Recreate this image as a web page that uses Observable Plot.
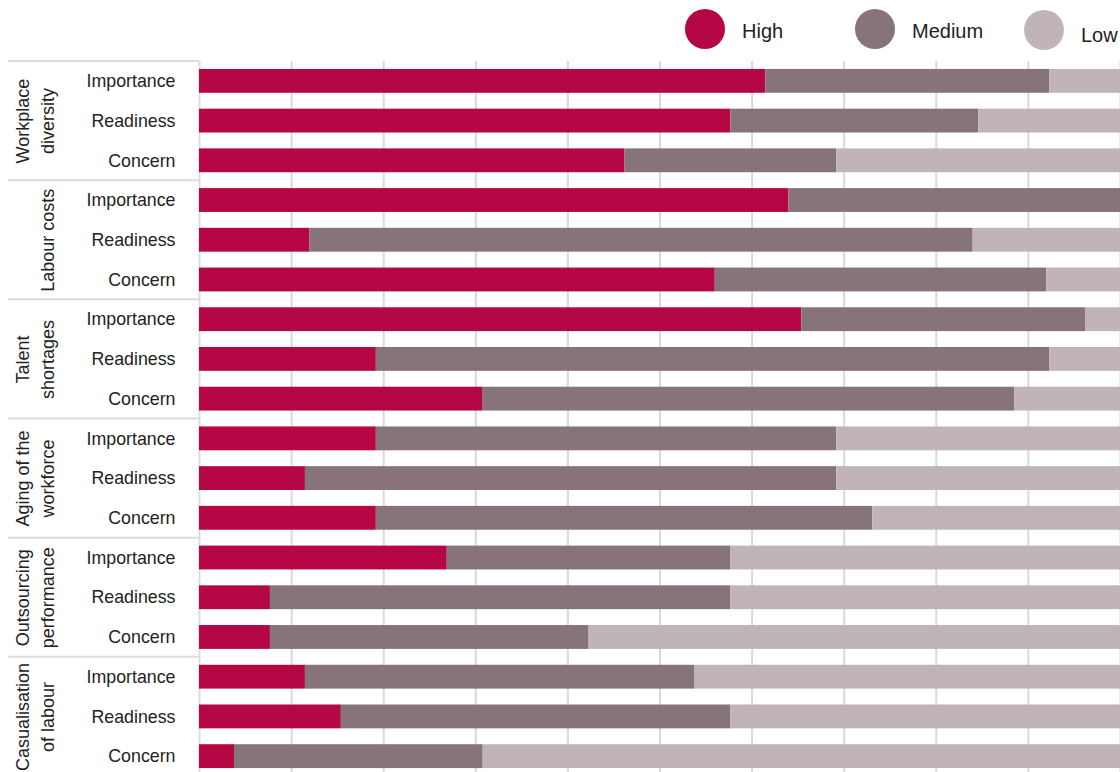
<!DOCTYPE html>
<html>
<head>
<meta charset="utf-8">
<script src="https://cdn.jsdelivr.net/npm/d3@7"></script>
<script src="https://cdn.jsdelivr.net/npm/@observablehq/plot@0.6"></script>
<style>
  html, body { margin: 0; padding: 0; background: #fff; overflow: hidden; }
  body { font-family: "Liberation Sans", Arial, sans-serif; width: 1120px; }
  #legend { position: relative; height: 56px; }
  .item { position: absolute; top: 9px; display: flex; align-items: center; }
  .dot { width: 40px; height: 40px; border-radius: 50%; }
  .lab { margin-left: 17px; font-size: 20px; color: #222; padding-top: 4px; }
</style>
</head>
<body>
<div id="legend"></div>
<div id="chart"></div>
<script>
// ---- data ----
const groups = ["Workplace\ndiversity", "Labour costs", "Talent\nshortages", "Aging of the\nworkforce", "Outsourcing\nperformance", "Casualisation\nof labour"];
const measures = ["Importance", "Readiness", "Concern"];
const levels = ["High", "Medium", "Low"];
const colors = ["#b50645", "#87737a", "#c1b4b7"];
// percentages, 3 measures per group, in group order
const high   = [61.5, 57.7, 46.2,  64.0, 12.0, 56.0,  65.4, 19.2, 30.8,  19.2, 11.5, 19.2,  26.9,  7.7,  7.7,  11.5, 15.4,  3.8];
const medium = [30.8, 26.9, 23.0,  36.0, 72.0, 36.0,  30.8, 73.1, 57.7,  50.0, 57.7, 53.9,  30.8, 50.0, 34.6,  42.3, 42.3, 27.0];
const low    = [ 7.7, 15.4, 30.8,   0.0, 16.0,  8.0,   3.8,  7.7, 11.5,  30.8, 30.8, 26.9,  42.3, 42.3, 57.7,  46.2, 42.3, 69.2];

// ---- derived tables ----
const rows = [];
groups.forEach((g, gi) => measures.forEach((m, mi) => rows.push({key: gi + "|" + m, group: gi, measure: m, i: gi * 3 + mi})));
const series = [high, medium, low];
const segs = [];
rows.forEach(r => levels.forEach((lv, li) => segs.push({key: r.key, level: lv, value: series[li][r.i]})));
const groupLabels = groups.map((g, gi) => ({label: g, key: gi + "|" + measures[1], first: gi + "|" + measures[0]}));

// ---- legend ----
const legendLeft = [685, 855, 1024];
const legend = document.getElementById("legend");
levels.forEach((lv, i) => {
  const it = document.createElement("div");
  it.className = "item";
  it.style.left = legendLeft[i] + "px";
  if (i === 2) it.style.top = "10px";
  const dot = document.createElement("div");
  dot.className = "dot";
  dot.style.background = colors[i];
  const lab = document.createElement("span");
  lab.className = "lab";
  if (i === 2) lab.style.paddingTop = "10px";
  lab.textContent = lv;
  it.appendChild(dot); it.appendChild(lab);
  legend.appendChild(it);
});

// ---- separators in the label column ----
function separators(index, scales, values, dims) {
  const g = d3.create("svg:g");
  const y = scales.y;
  const off = (y.step() - y.bandwidth()) / 2;
  const tops = groupLabels.map(d => y(d.first) - off);
  g.selectAll("line").data(tops).join("line")
    .attr("x1", 8).attr("x2", dims.marginLeft)
    .attr("y1", d => d).attr("y2", d => d)
    .attr("stroke", "#dcdcdc").attr("stroke-width", 2);
  return g.node();
}

const chart = Plot.plot({
  width: 1120,
  height: 720,
  marginTop: 5,
  marginBottom: 0,
  marginLeft: 199,
  marginRight: 0,
  style: {fontFamily: '"Liberation Sans", Arial, sans-serif', color: "#222", background: "#fff"},
  x: {domain: [0, 100], axis: null},
  y: {domain: rows.map(r => r.key), paddingInner: 0.4, paddingOuter: 0.2, round: false, axis: null},
  color: {domain: levels, range: colors},
  marks: [
    Plot.gridX(d3.range(10, 101, 10), {stroke: "#d9d9d9", strokeOpacity: 1, strokeWidth: 2}),
    Plot.ruleX([0], {stroke: "#dcdcdc", strokeWidth: 2}),
    Plot.barX(segs, Plot.stackX({x: "value", y: "key", fill: "level"})),
    Plot.text(rows, {y: "key", text: "measure", frameAnchor: "left", dx: -24, textAnchor: "end", fontSize: 17.8, fill: "#222"}),
    Plot.text(groupLabels, {y: "key", text: "label", frameAnchor: "left", dx: -146, rotate: -90, lineAnchor: "bottom", textAnchor: "middle", lineHeight: 1.35, fontSize: 18, fill: "#222"}),
    separators
  ]
});
document.getElementById("chart").appendChild(chart);
</script>
</body>
</html>
